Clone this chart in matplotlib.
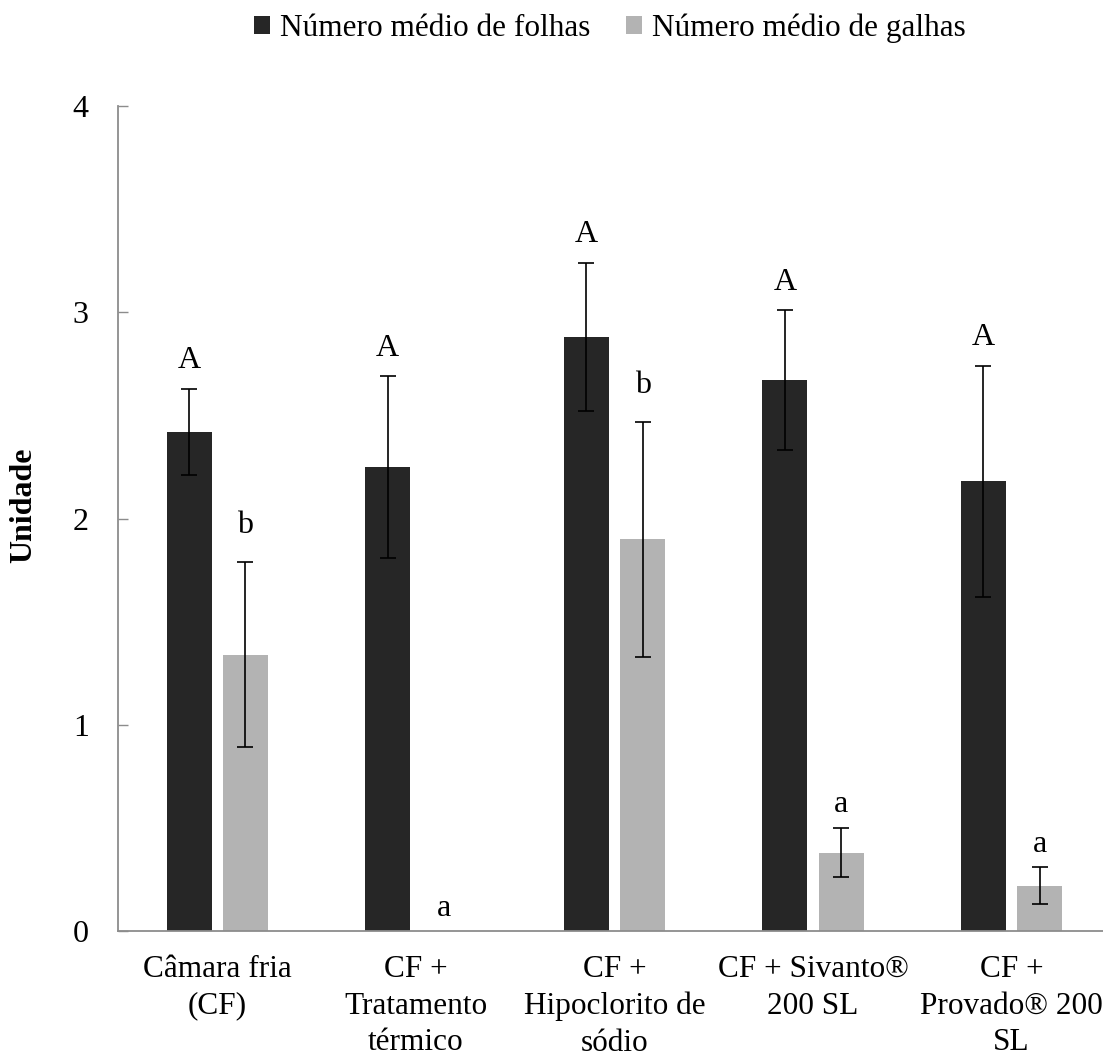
import numpy as np
import matplotlib
matplotlib.use("Agg")
import matplotlib.pyplot as plt

plt.rcParams['font.family'] = ['Liberation Serif', 'DejaVu Serif']

# Data
names = ['Câmara fria\n(CF)', 'CF +\nTratamento\ntérmico', 'CF +\nHipoclorito de\nsódio',
         'CF + Sivanto®\n200 SL', 'CF +\nProvado® 200\nSL']
folhas = [2.42, 2.25, 2.88, 2.67, 2.18]
folhas_err = [0.21, 0.44, 0.36, 0.34, 0.56]
galhas = [1.34, 0.0, 1.90, 0.38, 0.22]
galhas_err = [0.45, 0.0, 0.57, 0.12, 0.09]
letras_folhas = ['A', 'A', 'A', 'A', 'A']
letras_galhas = ['b', 'a', 'b', 'a', 'a']

dark = '#262626'
light = '#b3b3b3'
spine = '#8c8c8c'

fig = plt.figure(figsize=(11.03, 10.57), dpi=100)
ax = fig.add_axes([118 / 1103, 1 - 931 / 1057, 1 - 118 / 1103, (931 - 106) / 1057])

r = np.arange(len(names))
w = 0.226
off = 0.142
ekw = dict(elinewidth=1.2, capthick=1.2, ecolor='black')

ax.bar(r - off, folhas, width=w, color=dark, label='Número médio de folhas', zorder=2)
ax.errorbar(r - off, folhas, yerr=folhas_err, fmt='none', capsize=6, zorder=3, **ekw)
has_err = np.array(galhas_err) > 0
ax.bar(r + off, galhas, width=w, color=light, label='Número médio de galhas', zorder=2)
ax.errorbar((r + off)[has_err], np.array(galhas)[has_err], yerr=np.array(galhas_err)[has_err],
            fmt='none', capsize=6, zorder=3, **ekw)

# letters above bars
pad = {'A': 0.10, 'b': 0.14, 'a': 0.075}
for i in r:
    t = folhas[i] + folhas_err[i]
    ax.text(i - off, t + pad[letras_folhas[i]], letras_folhas[i], ha='center', va='baseline', fontsize=23)
    t = galhas[i] + galhas_err[i]
    ax.text(i + off, t + pad[letras_galhas[i]], letras_galhas[i], ha='center', va='baseline', fontsize=23)

ax.set_xlim(-0.5, 4.46)
ax.set_ylim(0, 4)
ax.set_yticks([0, 1, 2, 3, 4])
ax.set_xticks(r)
ax.set_xticklabels(names, fontsize=22.5, linespacing=1.36)
ax.tick_params(axis='x', length=0, pad=17)
ax.tick_params(axis='y', direction='in', length=7, width=1, color=spine, labelsize=23, pad=21)

for s in ['top', 'right']:
    ax.spines[s].set_visible(False)
for s in ['left', 'bottom']:
    ax.spines[s].set_color(spine)
    ax.spines[s].set_linewidth(1.3)

ax.set_ylabel('Unidade', fontsize=23, fontweight='bold')
ax.yaxis.set_label_coords(-0.081, 0.516)

ax.legend(loc='center', bbox_to_anchor=(610 / 1103, 1 - 28 / 1057), bbox_transform=fig.transFigure,
          ncol=2, frameon=False, fontsize=22.5, handlelength=0.5, handleheight=0.5,
          handletextpad=0.33, columnspacing=1.15, borderpad=0)

fig.savefig('out.png', dpi=100)
